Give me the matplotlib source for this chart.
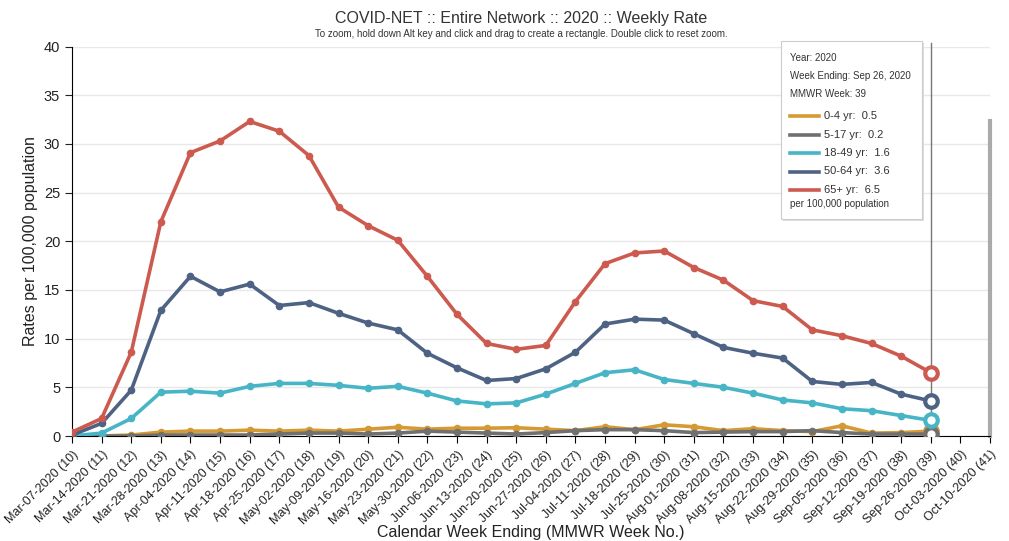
import matplotlib.pyplot as plt
from matplotlib.patches import Rectangle
from matplotlib.lines import Line2D

plt.rcParams['font.family'] = ['Liberation Sans', 'DejaVu Sans']

# weeks ending (MMWR week 10 .. 41)
weeks = ['Mar-07-2020 (10)', 'Mar-14-2020 (11)', 'Mar-21-2020 (12)', 'Mar-28-2020 (13)',
         'Apr-04-2020 (14)', 'Apr-11-2020 (15)', 'Apr-18-2020 (16)', 'Apr-25-2020 (17)',
         'May-02-2020 (18)', 'May-09-2020 (19)', 'May-16-2020 (20)', 'May-23-2020 (21)',
         'May-30-2020 (22)', 'Jun-06-2020 (23)', 'Jun-13-2020 (24)', 'Jun-20-2020 (25)',
         'Jun-27-2020 (26)', 'Jul-04-2020 (27)', 'Jul-11-2020 (28)', 'Jul-18-2020 (29)',
         'Jul-25-2020 (30)', 'Aug-01-2020 (31)', 'Aug-08-2020 (32)', 'Aug-15-2020 (33)',
         'Aug-22-2020 (34)', 'Aug-29-2020 (35)', 'Sep-05-2020 (36)', 'Sep-12-2020 (37)',
         'Sep-19-2020 (38)', 'Sep-26-2020 (39)', 'Oct-03-2020 (40)', 'Oct-10-2020 (41)']

# rates per 100,000, weeks 10..39
age_0_4 = [0.0, 0.0, 0.1, 0.4, 0.5, 0.5, 0.6, 0.5, 0.6, 0.5, 0.7, 0.9, 0.7, 0.8, 0.8,
           0.85, 0.7, 0.55, 0.95, 0.65, 1.15, 0.95, 0.55, 0.75, 0.55, 0.45, 1.05, 0.3, 0.35, 0.5]
age_5_17 = [0.0, 0.0, 0.0, 0.1, 0.1, 0.1, 0.1, 0.2, 0.3, 0.3, 0.2, 0.3, 0.5, 0.4, 0.3,
            0.2, 0.35, 0.55, 0.65, 0.65, 0.55, 0.35, 0.4, 0.45, 0.45, 0.55, 0.35, 0.2, 0.2, 0.2]
age_18_49 = [0.0, 0.3, 1.8, 4.5, 4.6, 4.4, 5.1, 5.4, 5.4, 5.2, 4.9, 5.1, 4.4, 3.6, 3.3,
             3.4, 4.3, 5.4, 6.5, 6.8, 5.8, 5.4, 5.0, 4.4, 3.7, 3.4, 2.8, 2.6, 2.1, 1.6]
age_50_64 = [0.1, 1.3, 4.7, 12.9, 16.4, 14.8, 15.6, 13.4, 13.7, 12.6, 11.6, 10.9, 8.5, 7.0, 5.7,
             5.9, 6.9, 8.6, 11.5, 12.0, 11.9, 10.5, 9.1, 8.5, 8.0, 5.6, 5.3, 5.5, 4.3, 3.6]
age_65 = [0.4, 1.8, 8.6, 22.0, 29.1, 30.3, 32.3, 31.3, 28.8, 23.5, 21.6, 20.1, 16.4, 12.5, 9.5,
          8.9, 9.3, 13.8, 17.7, 18.8, 19.0, 17.3, 16.0, 13.9, 13.3, 10.9, 10.3, 9.5, 8.2, 6.5]

series = [
    ('0-4 yr:', age_0_4, '#D69A34', '0.5'),
    ('5-17 yr:', age_5_17, '#707070', '0.2'),
    ('18-49 yr:', age_18_49, '#47B5C6', '1.6'),
    ('50-64 yr:', age_50_64, '#4E6383', '3.6'),
    ('65+ yr:', age_65, '#CD5A4F', '6.5'),
]

fig = plt.figure(figsize=(10.09, 5.41), dpi=100)
ax = fig.add_axes([72 / 1009, 105 / 541, 918 / 1009, 389.5 / 541])

x = list(range(len(age_65)))
for name, vals, col, _ in series:
    ax.plot(x, vals, color=col, lw=2.6, marker='o', ms=4.5, zorder=3)
    # highlighted last point
    ax.plot(x[-1], vals[-1], marker='o', ms=9, color=col, mfc='white', mew=3, zorder=5)

# hover line at week 39
ax.axvline(x[-1], color='#777777', lw=1, zorder=4, ymax=1.01, clip_on=False)
# gray range bar on the right edge
ax.plot([len(weeks) - 1, len(weeks) - 1], [0, max(age_65)], color='#aaaaaa', lw=3,
        clip_on=False, zorder=2)

ax.set_xlim(0, len(weeks) - 1)
ax.set_ylim(0, 40)
ax.set_yticks(range(0, 41, 5))
ax.set_xticks(range(len(weeks)))
ax.set_xticklabels(weeks, rotation=45, ha='right', rotation_mode='anchor', fontsize=9,
                   color='#222222')
ax.tick_params(axis='y', labelsize=10.5, colors='#222222', length=5)
ax.tick_params(axis='x', length=5, pad=4)
ax.grid(axis='y', color='#e8e8e8', lw=1)
ax.set_axisbelow(True)
for s in ['top', 'right']:
    ax.spines[s].set_visible(False)
ax.spines['left'].set_color('black')
ax.spines['bottom'].set_color('black')

ax.set_ylabel('Rates per 100,000 population', fontsize=11.5, color='#222222', labelpad=4)
fig.text(531 / 1009, 1 - 533 / 541, 'Calendar Week Ending (MMWR Week No.)', ha='center',
         va='center', fontsize=11.5, color='#222222')

fig.text(521 / 1009, 1 - 18 / 541, 'COVID-NET :: Entire Network :: 2020 :: Weekly Rate',
         ha='center', va='center', fontsize=11.5, color='#333333')
fig.text(521 / 1009, 1 - 34 / 541,
         'To zoom, hold down Alt key and click and drag to create a rectangle. Double click to reset zoom.',
         ha='center', va='center', fontsize=7, color='#333333')

# tooltip legend box
fig.patches.append(Rectangle((783 / 1009, 1 - 221 / 541), 141 / 1009, 178 / 541,
                             transform=fig.transFigure, facecolor='#dddddd',
                             edgecolor='none', zorder=8))
fig.patches.append(Rectangle((781 / 1009, 1 - 219 / 541), 141 / 1009, 178 / 541,
                             transform=fig.transFigure, facecolor='white',
                             edgecolor='#cccccc', lw=0.8, zorder=9))
for i, t in enumerate(['Year: 2020', 'Week Ending: Sep 26, 2020', 'MMWR Week: 39']):
    fig.text(790 / 1009, 1 - (58 + 18 * i) / 541, t, fontsize=7, color='#333333',
             va='center', zorder=10)
for i, (name, vals, col, lab) in enumerate(series):
    yy = 1 - (116 + 18.5 * i) / 541
    fig.add_artist(Line2D([790 / 1009, 819 / 1009], [yy, yy], transform=fig.transFigure,
                          color=col, lw=2.6, zorder=10))
    fig.text(824 / 1009, yy, f'{name}  {lab}', fontsize=8, color='#333333', va='center',
             zorder=10)
fig.text(790 / 1009, 1 - 204 / 541, 'per 100,000 population', fontsize=7, color='#333333',
         va='center', zorder=10)

fig.savefig('out.png', dpi=100, facecolor='white')
